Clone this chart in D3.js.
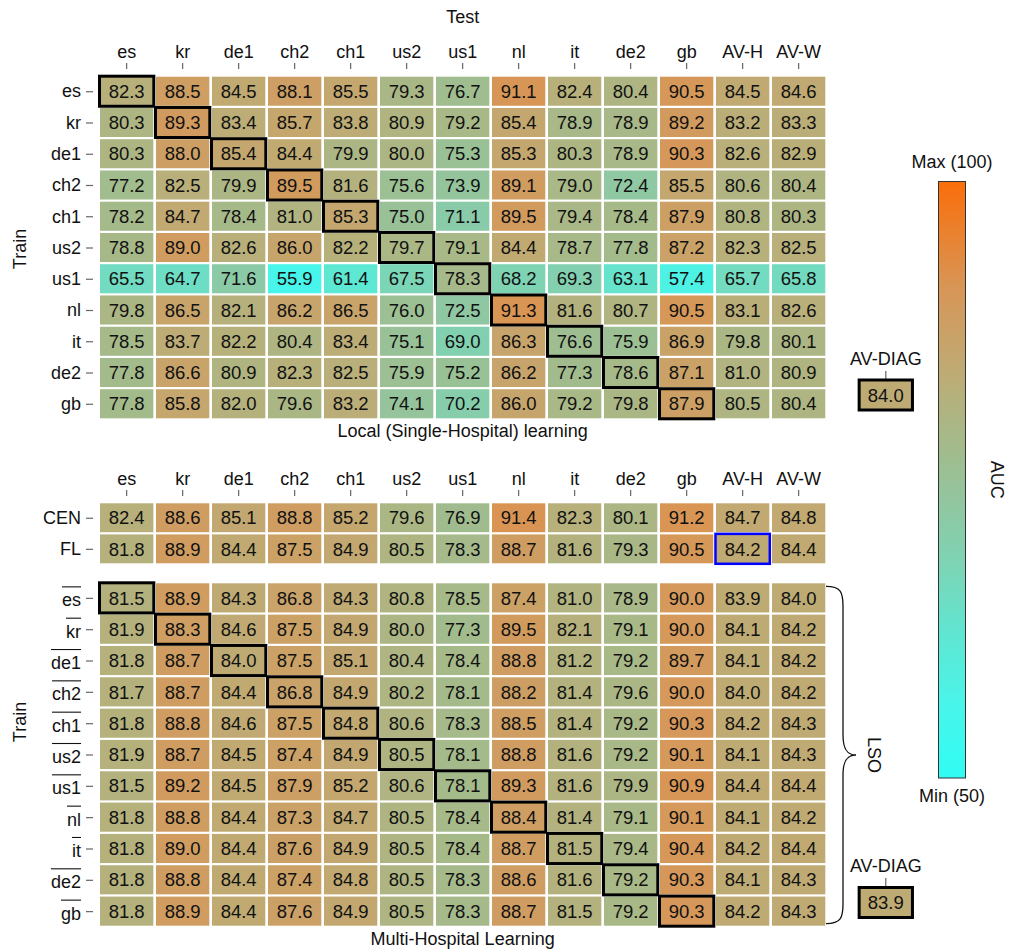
<!DOCTYPE html>
<html>
<head>
<meta charset="utf-8">
<script src="https://cdn.jsdelivr.net/npm/d3@7"></script>
<style>
  body { margin: 0; background: #fff; }
  svg text { font-family: "Liberation Sans", Arial, sans-serif; }
</style>
</head>
<body>
<svg id="chart" width="1009" height="952"></svg>
<script>
// test hospitals (columns)
var testCols = ["es", "kr", "de1", "ch2", "ch1", "us2", "us1", "nl", "it", "de2", "gb", "AV-H", "AV-W"];
// train hospitals, local learning
var localRows = ["es", "kr", "de1", "ch2", "ch1", "us2", "us1", "nl", "it", "de2", "gb"];
var localValues = [
    [82.3, 88.5, 84.5, 88.1, 85.5, 79.3, 76.7, 91.1, 82.4, 80.4, 90.5, 84.5, 84.6],
    [80.3, 89.3, 83.4, 85.7, 83.8, 80.9, 79.2, 85.4, 78.9, 78.9, 89.2, 83.2, 83.3],
    [80.3, 88.0, 85.4, 84.4, 79.9, 80.0, 75.3, 85.3, 80.3, 78.9, 90.3, 82.6, 82.9],
    [77.2, 82.5, 79.9, 89.5, 81.6, 75.6, 73.9, 89.1, 79.0, 72.4, 85.5, 80.6, 80.4],
    [78.2, 84.7, 78.4, 81.0, 85.3, 75.0, 71.1, 89.5, 79.4, 78.4, 87.9, 80.8, 80.3],
    [78.8, 89.0, 82.6, 86.0, 82.2, 79.7, 79.1, 84.4, 78.7, 77.8, 87.2, 82.3, 82.5],
    [65.5, 64.7, 71.6, 55.9, 61.4, 67.5, 78.3, 68.2, 69.3, 63.1, 57.4, 65.7, 65.8],
    [79.8, 86.5, 82.1, 86.2, 86.5, 76.0, 72.5, 91.3, 81.6, 80.7, 90.5, 83.1, 82.6],
    [78.5, 83.7, 82.2, 80.4, 83.4, 75.1, 69.0, 86.3, 76.6, 75.9, 86.9, 79.8, 80.1],
    [77.8, 86.6, 80.9, 82.3, 82.5, 75.9, 75.2, 86.2, 77.3, 78.6, 87.1, 81.0, 80.9],
    [77.8, 85.8, 82.0, 79.6, 83.2, 74.1, 70.2, 86.0, 79.2, 79.8, 87.9, 80.5, 80.4]
];
// centralised / federated
var multiRows = ["CEN", "FL"];
var multiValues = [
    [82.4, 88.6, 85.1, 88.8, 85.2, 79.6, 76.9, 91.4, 82.3, 80.1, 91.2, 84.7, 84.8],
    [81.8, 88.9, 84.4, 87.5, 84.9, 80.5, 78.3, 88.7, 81.6, 79.3, 90.5, 84.2, 84.4]
];
// leave-site-out rows (label shown with overline)
var lsoRows = ["es", "kr", "de1", "ch2", "ch1", "us2", "us1", "nl", "it", "de2", "gb"];
var lsoValues = [
    [81.5, 88.9, 84.3, 86.8, 84.3, 80.8, 78.5, 87.4, 81.0, 78.9, 90.0, 83.9, 84.0],
    [81.9, 88.3, 84.6, 87.5, 84.9, 80.0, 77.3, 89.5, 82.1, 79.1, 90.0, 84.1, 84.2],
    [81.8, 88.7, 84.0, 87.5, 85.1, 80.4, 78.4, 88.8, 81.2, 79.2, 89.7, 84.1, 84.2],
    [81.7, 88.7, 84.4, 86.8, 84.9, 80.2, 78.1, 88.2, 81.4, 79.6, 90.0, 84.0, 84.2],
    [81.8, 88.8, 84.6, 87.5, 84.8, 80.6, 78.3, 88.5, 81.4, 79.2, 90.3, 84.2, 84.3],
    [81.9, 88.7, 84.5, 87.4, 84.9, 80.5, 78.1, 88.8, 81.6, 79.2, 90.1, 84.1, 84.3],
    [81.5, 89.2, 84.5, 87.9, 85.2, 80.6, 78.1, 89.3, 81.6, 79.9, 90.9, 84.4, 84.4],
    [81.8, 88.8, 84.4, 87.3, 84.7, 80.5, 78.4, 88.4, 81.4, 79.1, 90.1, 84.1, 84.2],
    [81.8, 89.0, 84.4, 87.6, 84.9, 80.5, 78.4, 88.7, 81.5, 79.4, 90.4, 84.2, 84.4],
    [81.8, 88.8, 84.4, 87.4, 84.8, 80.5, 78.3, 88.6, 81.6, 79.2, 90.3, 84.1, 84.3],
    [81.8, 88.9, 84.4, 87.6, 84.9, 80.5, 78.3, 88.7, 81.5, 79.2, 90.3, 84.2, 84.3]
];
var avDiagLocal = 84.0;
var avDiagLso = 83.9;

var svg = d3.select("#chart");

// colour map: cyan (50) -> olive -> orange (100)
var color = d3.scaleLinear()
    .domain([50, 56, 62, 68, 73, 77, 80, 83, 86, 89, 91, 100])
    .range(["rgb(48,252,244)", "rgb(72,245,234)", "rgb(95,230,210)", "rgb(125,212,180)",
            "rgb(145,198,160)", "rgb(160,188,142)", "rgb(172,182,132)", "rgb(186,174,120)",
            "rgb(198,165,108)", "rgb(208,156,96)", "rgb(215,150,86)", "rgb(250,110,10)"])
    .clamp(true);

var x = d3.scaleBand()
    .domain(testCols)
    .range([100, 825.3])
    .paddingInner(0.048);

function drawBlock(rows, values, y, diag) {
    var cells = [];
    values.forEach(function(row, i) {
        row.forEach(function(v, j) {
            cells.push({r: rows[i], ri: i, c: testCols[j], ci: j, v: v});
        });
    });
    var g = svg.append("g");
    g.selectAll("rect.cell")
        .data(cells)
        .enter()
        .append("rect")
        .attr("class", "cell")
        .attr("x", function(d) { return x(d.c); })
        .attr("y", function(d) { return y(d.ri); })
        .attr("width", x.bandwidth())
        .attr("height", y.bandwidth())
        .attr("fill", function(d) { return color(d.v); });

    if (diag) {
        // outline the diagonal (train == test)
        g.selectAll("rect.diag")
            .data(cells.filter(function(d) { return d.ri == d.ci; }))
            .enter()
            .append("rect")
            .attr("class", "diag")
            .attr("x", function(d) { return x(d.c) - 0.5; })
            .attr("y", function(d) { return y(d.ri) - 0.5; })
            .attr("width", x.bandwidth() + 1)
            .attr("height", y.bandwidth() + 1)
            .attr("fill", "none")
            .attr("stroke", "black")
            .attr("stroke-width", 3);
    }

    g.selectAll("text")
        .data(cells)
        .enter()
        .append("text")
        .attr("x", function(d) { return x(d.c) + x.bandwidth() / 2; })
        .attr("y", function(d) { return y(d.ri) + y.bandwidth() / 2; })
        .attr("dy", "0.36em")
        .attr("text-anchor", "middle")
        .attr("font-size", "18.5px")
        .attr("fill", "#111")
        .text(function(d) { return d.v.toFixed(1); });
    return g;
}

function styleAxis(g) {
    g.select(".domain").remove();
    g.selectAll(".tick line").attr("stroke", "#666").attr("stroke-width", 1.2);
    g.selectAll(".tick text").attr("font-size", "18px").attr("fill", "#111")
        .style("font-family", '"Liberation Sans", Arial, sans-serif');
}

function colAxis(yPos) {
    var g = svg.append("g")
        .attr("transform", "translate(0," + yPos + ")")
        .call(d3.axisTop(x).tickSize(6).tickPadding(5));
    styleAxis(g);
}

function rowAxis(rows, y, overline) {
    var ax = d3.scaleOrdinal()
        .domain(d3.range(rows.length))
        .range(d3.range(rows.length).map(function(i) { return y(i) + y.bandwidth() / 2; }));
    var g = svg.append("g")
        .attr("transform", "translate(93,0)")
        .call(d3.axisLeft(ax).tickSize(7).tickPadding(5)
              .tickFormat(function(i) { return rows[i]; }));
    styleAxis(g);
    if (overline) {
        g.selectAll(".tick text").attr("dy", "0.45em");
        g.selectAll(".tick").each(function() {
            var t = d3.select(this).select("text");
            var w = t.node().getComputedTextLength();
            d3.select(this).append("line")
                .attr("x1", -12 - w)
                .attr("x2", -12)
                .attr("y1", -11.5)
                .attr("y2", -11.5)
                .attr("stroke", "#111")
                .attr("stroke-width", 1.1);
        });
    }
}

// ---- local block
var yLocal = d3.scaleBand().domain(d3.range(localRows.length)).range([76.7, 418.3]).paddingInner(0.07);
drawBlock(localRows, localValues, yLocal, true);
colAxis(69);
rowAxis(localRows, yLocal, false);

// ---- CEN / FL block
var yMulti = d3.scaleBand().domain(d3.range(multiRows.length)).range([503.3, 563.3]).paddingInner(0.07);
drawBlock(multiRows, multiValues, yMulti, false);
colAxis(496);
rowAxis(multiRows, yMulti, false);
// FL on AV-H highlighted
svg.append("rect")
    .attr("x", x("AV-H") - 0.5)
    .attr("y", yMulti(1) - 0.5)
    .attr("width", x.bandwidth() + 1)
    .attr("height", yMulti.bandwidth() + 1)
    .attr("fill", "none")
    .attr("stroke", "#0000ff")
    .attr("stroke-width", 2.5);

// ---- leave-site-out block
var yLso = d3.scaleBand().domain(d3.range(lsoRows.length)).range([583.3, 925.7]).paddingInner(0.07);
drawBlock(lsoRows, lsoValues, yLso, true);
rowAxis(lsoRows, yLso, true);

// ---- titles
function label(txt, xx, yy, rot, size) {
    var t = svg.append("text")
        .attr("text-anchor", "middle")
        .attr("font-size", size || "18px")
        .attr("fill", "#111")
        .text(txt);
    if (rot) {
        t.attr("transform", "translate(" + xx + "," + yy + ") rotate(" + rot + ")")
         .attr("dy", "0.35em");
    } else {
        t.attr("x", xx).attr("y", yy);
    }
    return t;
}
var midX = (x.range()[0] + x.range()[1]) / 2;
label("Test", midX, 23);
label("Local (Single-Hospital) learning", midX, 437);
label("Multi-Hospital Learning", midX, 945);
label("Train", 20, 249, -90);
label("Train", 20, 722, -90);

// ---- AV-DIAG boxes
function avDiag(v, labelY, boxY) {
    var cx = 885.8;
    label("AV-DIAG", cx, labelY);
    svg.append("line")
        .attr("x1", cx).attr("x2", cx)
        .attr("y1", labelY + 6).attr("y2", boxY)
        .attr("stroke", "#666").attr("stroke-width", 1.2);
    svg.append("rect")
        .attr("x", cx - x.bandwidth() / 2)
        .attr("y", boxY)
        .attr("width", x.bandwidth())
        .attr("height", 30)
        .attr("fill", color(v))
        .attr("stroke", "black")
        .attr("stroke-width", 3);
    svg.append("text")
        .attr("x", cx).attr("y", boxY + 15)
        .attr("dy", "0.36em")
        .attr("text-anchor", "middle")
        .attr("font-size", "18.5px")
        .attr("fill", "#111")
        .text(v.toFixed(1));
}
avDiag(avDiagLocal, 365, 380);
avDiag(avDiagLso, 872, 887.5);

// ---- brace for LSO rows
var bTop = yLso(0) + 3, bBot = yLso(lsoRows.length - 1) + yLso.bandwidth() - 2;
var bMid = (bTop + bBot) / 2;
var bx0 = 826, bx1 = 843, bTip = 856;
svg.append("path")
    .attr("d", "M" + bx0 + "," + bTop +
         " C" + (bx1 - 2) + "," + bTop + " " + bx1 + "," + (bTop + 6) + " " + bx1 + "," + (bTop + 20) +
         " L" + bx1 + "," + (bMid - 20) +
         " C" + bx1 + "," + (bMid - 6) + " " + (bx1 + 4) + "," + bMid + " " + bTip + "," + bMid +
         " C" + (bx1 + 4) + "," + bMid + " " + bx1 + "," + (bMid + 6) + " " + bx1 + "," + (bMid + 20) +
         " L" + bx1 + "," + (bBot - 20) +
         " C" + bx1 + "," + (bBot - 6) + " " + (bx1 - 2) + "," + bBot + " " + bx0 + "," + bBot)
    .attr("fill", "none")
    .attr("stroke", "#111")
    .attr("stroke-width", 1.3);
label("LSO", 874, bMid, 90);

// ---- colour bar
var cb = d3.scaleLinear().domain([50, 100]).range([778, 181.5]);
var grad = svg.append("defs").append("linearGradient")
    .attr("id", "cbgrad")
    .attr("x1", "0").attr("y1", "1").attr("x2", "0").attr("y2", "0");
grad.selectAll("stop")
    .data(d3.range(50, 100.01, 1))
    .enter()
    .append("stop")
    .attr("offset", function(d) { return (d - 50) / 50; })
    .attr("stop-color", function(d) { return color(d); });
svg.append("rect")
    .attr("x", 938.5)
    .attr("y", cb(100))
    .attr("width", 27)
    .attr("height", cb(50) - cb(100))
    .attr("fill", "url(#cbgrad)")
    .attr("stroke", "#333")
    .attr("stroke-width", 1);
label("Max (100)", 952, cb(100) - 14);
label("Min (50)", 952, cb(50) + 24);
label("AUC", 997, (cb(50) + cb(100)) / 2, 90);
</script>
</body>
</html>
